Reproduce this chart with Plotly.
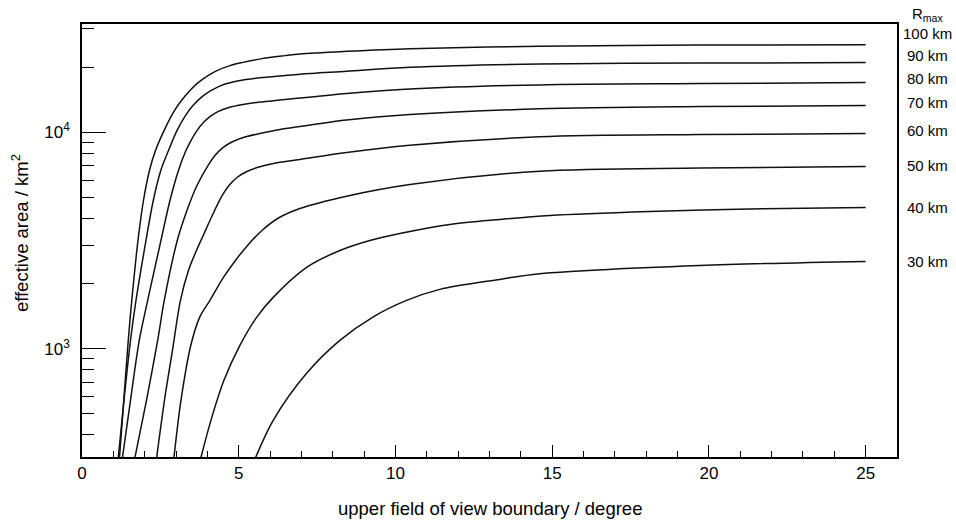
import plotly.graph_objects as go

# ---- data (upper FOV boundary in degree, effective area in km^2) ----
x_100 = [1.196, 1.333, 1.476, 1.588, 1.786, 1.961, 2.152, 2.344, 2.663, 2.950, 3.173, 3.444,
         3.667, 4.018, 4.305, 4.719, 5.102, 5.740, 6.473, 6.952, 8.44, 10.46, 14.6, 19.71, 25.0]
y_100 = [315, 578, 1093, 1672, 3164, 4839, 6657, 8232, 10512, 12592, 14005, 15574,
         16780, 18270, 19266, 20315, 20970, 21880, 22590, 23000, 23650, 24330, 24940, 25260, 25390]

x_90 = [1.158, 1.339, 1.547, 1.722, 2.041, 2.274, 2.513, 2.759, 3.029, 3.300, 3.540, 3.795,
        4.113, 4.432, 4.815, 5.230, 5.740, 6.314, 6.952, 8.44, 10.46, 14.6, 19.71, 25.0]
y_90 = [315, 578, 1093, 1672, 3164, 4839, 6657, 8232, 10181, 11944, 13281, 14461,
        15574, 16428, 17050, 17508, 17883, 18170, 18542, 19124, 19953, 20683, 20860, 20970]

x_80 = [1.291, 1.547, 1.827, 2.095, 2.519, 2.806, 3.077, 3.316, 3.476, 3.667, 3.874, 4.082,
        4.337, 4.688, 5.134, 5.676, 6.314, 6.952, 8.44, 10.46, 14.6, 19.71, 25.0]
y_80 = [315, 578, 1093, 1672, 3164, 4839, 6657, 8232, 9157, 10181, 11086, 11815,
        12458, 13002, 13423, 13783, 14080, 14384, 15088, 15827, 16548, 16780, 16960]

x_70 = [1.690, 2.057, 2.414, 2.624, 3.039, 3.348, 3.667, 4.018, 4.241, 4.496, 4.815, 5.198,
        5.676, 6.314, 6.952, 8.44, 10.46, 14.6, 19.71, 25.0]
y_70 = [315, 578, 1093, 1672, 3164, 4352, 5675, 7019, 7806, 8499, 9061, 9502,
        9863, 10291, 10624, 11384, 12070, 12823, 13138, 13280]

x_60 = [2.382, 2.631, 2.886, 3.141, 3.396, 3.651, 3.868, 4.155, 4.474, 4.688, 4.943, 5.261,
        5.644, 6.186, 6.952, 8.44, 10.46, 14.6, 19.71, 25.0]
y_60 = [315, 578, 983, 1672, 2300, 2844, 3336, 4126, 5104, 5675, 6178, 6586,
        6909, 7209, 7482, 8060, 8710, 9523, 9759, 9862]

x_50 = [2.934, 3.157, 3.476, 3.763, 4.082, 4.512, 4.895, 5.309, 5.740, 6.282, 6.952, 8.44,
        10.46, 14.6, 19.71, 25.0]
y_50 = [315, 578, 1044, 1407, 1672, 2135, 2558, 3033, 3519, 4027, 4446, 5067,
        5738, 6607, 6837, 6944]

x_40 = [3.795, 4.113, 4.528, 5.038, 5.571, 6.100, 7.165, 8.227, 9.184, 10.140, 11.735, 13.329,
        14.923, 18.112, 21.301, 25.0]
y_40 = [315, 467, 715, 1037, 1396, 1727, 2375, 2844, 3164, 3408, 3751, 3955,
        4127, 4306, 4421, 4493]

x_30 = [5.54, 6.100, 7.165, 8.227, 9.279, 10.354, 11.416, 13.329, 14.6, 19.71, 25.0]
y_30 = [315, 467, 770, 1093, 1401, 1672, 1880, 2091, 2222, 2426, 2532]

r_max_labels = ["100 km", "90 km", "80 km", "70 km", "60 km", "50 km", "40 km", "30 km"]
y_tick_vals = [1e3, 1e4]
y_tick_text = ["10<sup>3</sup>", "10<sup>4</sup>"]

series = [(x_100, y_100), (x_90, y_90), (x_80, y_80), (x_70, y_70),
          (x_60, y_60), (x_50, y_50), (x_40, y_40), (x_30, y_30)]

FONT = "Liberation Sans, Arial, Helvetica, sans-serif"

fig = go.Figure()
for xs, ys in series:
    fig.add_trace(go.Scatter(
        x=xs, y=ys, mode="lines",
        line=dict(color="#111111", width=1.5, shape="spline", smoothing=0.9),
        showlegend=False, hoverinfo="skip"))

minor_y = [m * 10 ** e for e in (2, 3, 4) for m in range(2, 10)]

fig.update_layout(
    width=956, height=520, autosize=False,
    margin=dict(l=82, r=59, t=24, b=63),
    paper_bgcolor="white", plot_bgcolor="white",
    font=dict(family=FONT, color="black"),
)

fig.update_xaxes(
    range=[0, 26], tickmode="linear", tick0=0, dtick=5,
    ticks="inside", ticklen=12, tickwidth=1, tickcolor="black",
    showline=True, linecolor="black", linewidth=1.5, mirror=True,
    showgrid=False, zeroline=False, tickfont=dict(size=17, family=FONT),
    minor=dict(ticks="inside", ticklen=6, dtick=1, tick0=0,
               tickcolor="black", tickwidth=1, showgrid=False),
)
fig.update_yaxes(
    type="log", range=[2.5, 4.5],
    tickmode="array", tickvals=y_tick_vals, ticktext=y_tick_text,
    ticks="inside", ticklen=24, tickwidth=1, tickcolor="black",
    showline=True, linecolor="black", linewidth=1.5, mirror=True,
    showgrid=False, zeroline=False, tickfont=dict(size=17, family=FONT),
    ticklabelstandoff=7,
    minor=dict(ticks="inside", ticklen=12, tickmode="array", tickvals=minor_y,
               tickcolor="black", tickwidth=1, showgrid=False),
)

annotations = [
    dict(text="upper field of view boundary / degree", xref="paper", yref="paper",
         x=0.5, y=-0.1178, xanchor="center", yanchor="middle", showarrow=False,
         font=dict(size=18.5, family=FONT)),
    dict(text="effective area / km<sup>2</sup>", xref="paper", yref="paper",
         x=-0.0761, y=0.517, xanchor="center", yanchor="middle", textangle=-90,
         showarrow=False, font=dict(size=18.5, family=FONT)),
    dict(text="R<sub>max</sub>", xref="paper", yref="paper", x=1.038, y=1.0208,
         xanchor="center", yanchor="middle", showarrow=False,
         font=dict(size=15, family=FONT)),
]
label_y = [0.9785, 0.9284, 0.873, 0.8192, 0.7529, 0.6727, 0.5767, 0.451]
for lab, ly in zip(r_max_labels, label_y):
    annotations.append(dict(text=lab, xref="paper", yref="paper", x=1.038, y=ly,
                            xanchor="center", yanchor="middle", showarrow=False,
                            font=dict(size=15, family=FONT)))
fig.update_layout(annotations=annotations)

fig.write_html("out.html")
